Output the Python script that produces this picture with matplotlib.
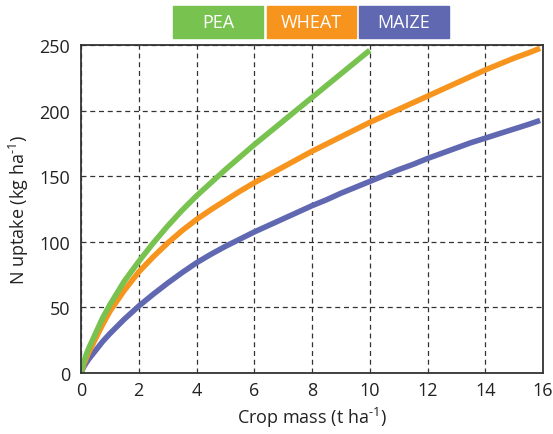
import numpy as np
import matplotlib.pyplot as plt
from matplotlib.patches import Rectangle

plt.rcParams['font.family'] = ['Open Sans', 'DejaVu Sans']
plt.rcParams['mathtext.fontset'] = 'custom'
plt.rcParams['mathtext.rm'] = 'Open Sans'

# valeurs
pea_x = [0, 0.1, 0.25, 0.5, 0.75, 1, 1.5, 2, 2.5, 3, 3.5, 4, 4.5, 5, 5.5, 6,
         6.5, 7, 7.5, 8, 8.5, 9, 9.5, 10]
pea_y = [0, 9, 18, 30, 42, 52, 70, 85, 99, 112, 124, 135, 145, 155, 164.5, 174,
         183, 192, 201, 210, 219, 228, 237, 246]

wheat_x = [0, 0.1, 0.25, 0.5, 0.75, 1, 1.5, 2, 2.5, 3, 3.5, 4, 4.5, 5, 5.5, 6,
           6.5, 7, 7.5, 8, 8.5, 9, 9.5, 10, 10.5, 11, 11.5, 12, 12.5, 13, 13.5,
           14, 14.5, 15, 15.5, 15.9]
wheat_y = [0, 7, 15, 26, 37, 47, 63, 77, 88.5, 99, 108.5, 117, 124.5, 131.5, 138.5, 145,
           151, 157, 163, 169, 174.5, 180, 185.5, 191, 196, 201, 206, 211, 216, 221, 226,
           231, 235.5, 240, 244, 247.5]

maize_x = [0, 0.1, 0.25, 0.5, 0.75, 1, 1.5, 2, 2.5, 3, 3.5, 4, 4.5, 5, 5.5, 6,
           6.5, 7, 7.5, 8, 8.5, 9, 9.5, 10, 10.5, 11, 11.5, 12, 12.5, 13, 13.5,
           14, 14.5, 15, 15.5, 15.9]
maize_y = [0, 5, 10, 17, 24, 30, 41, 51, 60, 68.5, 76.5, 84, 90.5, 96.5, 102, 107.5,
           112.5, 117.5, 122.5, 127.5, 132, 137, 141.5, 146, 150.5, 155, 159, 163.5, 167.5, 171.5, 175.5,
           179, 182.5, 186, 189.5, 192.5]

green = '#78C350'
orange = '#F7941D'
blue = '#6068B2'

fig = plt.figure(figsize=(5.53, 4.35), dpi=100)
ax = fig.add_axes([81/553, 1-374/435, (543-81)/553, (374-46)/435])

ax.plot(maize_x, maize_y, color=blue, lw=4, solid_capstyle='butt', solid_joinstyle='round')
ax.plot(wheat_x, wheat_y, color=orange, lw=4, solid_capstyle='butt', solid_joinstyle='round')
ax.plot(pea_x, pea_y, color=green, lw=4, solid_capstyle='butt', solid_joinstyle='round')

ax.set_xlim(0, 16)
ax.set_ylim(0, 250)
ax.set_xticks(range(0, 17, 2))
ax.set_yticks(range(0, 251, 50))
ax.tick_params(length=0, labelsize=13, colors='#222222')
ax.tick_params(axis='x', pad=6)
ax.tick_params(axis='y', pad=8)
ax.grid(True, color='#333333', linestyle=(0, (4, 3)), linewidth=0.9)
for s in ax.spines.values():
    s.set_color('#333333')
    s.set_linewidth(1.3)

ax.set_xlabel(r'Crop mass (t ha$^{\mathregular{\text{-}1}}$)', fontsize=13, color='#222222', labelpad=4)
ax.set_ylabel(r'N uptake (kg ha$^{\mathregular{\text{-}1}}$)', fontsize=13, color='#222222', labelpad=6)

# legende en cases colorees
boxes = [('PEA', 173, 263, green), ('WHEAT', 267, 356, orange), ('MAIZE', 359, 449, blue)]
for nom, x0, x1, c in boxes:
    fig.patches.append(Rectangle((x0/553, 1-39/435), (x1-x0)/553, 32/435,
                                 transform=fig.transFigure, color=c, zorder=5))
    fig.text((x0+x1)/2/553, 1-23/435, nom, color='white', fontsize=13,
             ha='center', va='center', zorder=6)

plt.savefig('out.png', dpi=100)
